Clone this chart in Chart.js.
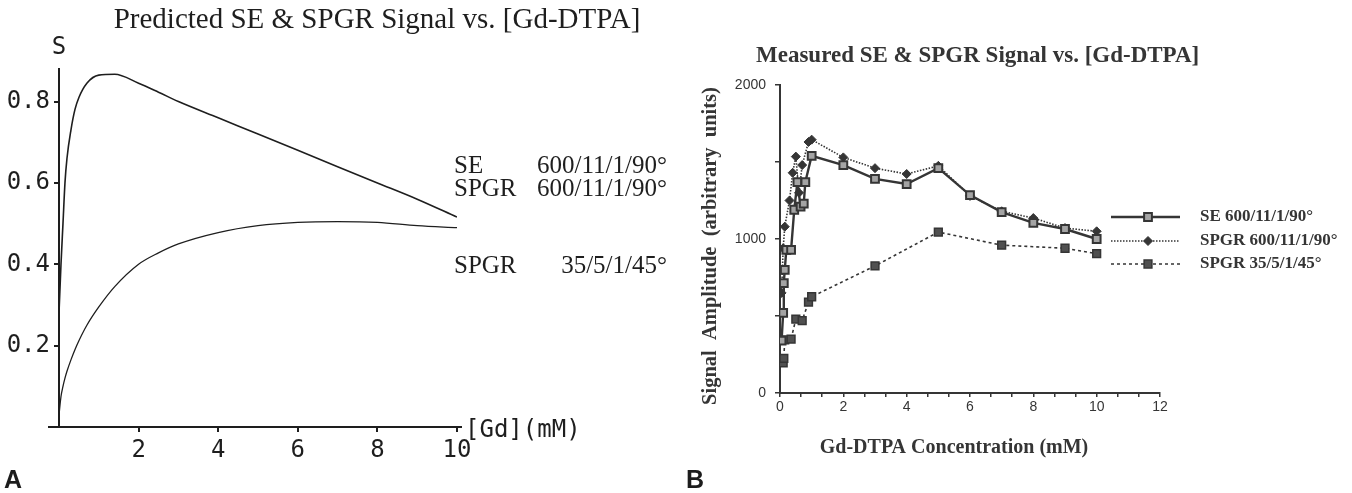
<!DOCTYPE html>
<html>
<head>
<meta charset="utf-8">
<script src="https://cdn.jsdelivr.net/npm/chart.js@4.4.1/dist/chart.umd.min.js"></script>
<style>
  html, body { margin: 0; padding: 0; background: #fff; }
  #wrap { position: relative; width: 1352px; height: 493px; overflow: hidden; background: #fff; }
  #cA { position: absolute; left: 0; top: 0; }
  #cB { position: absolute; left: 680px; top: 0; }
  .tag { position: absolute; top: 465px; font: bold 25px "Liberation Sans", Arial, sans-serif; color: #1c1c1c; }
</style>
</head>
<body>
<div id="wrap">
  <canvas id="cA" width="680" height="493"></canvas>
  <canvas id="cB" width="672" height="493"></canvas>
  <div class="tag" style="left:4px">A</div>
  <div class="tag" style="left:686px">B</div>
</div>
<script>
// ---- panel A: predicted signal ----
const predGd = [0, 0.05, 0.1, 0.15, 0.2, 0.3, 0.4, 0.5, 0.7, 1.0, 1.4, 2, 2.5, 3, 4, 5, 6, 7, 8, 9, 10];
const predSE = [0.28, 0.40, 0.50, 0.60, 0.66, 0.73, 0.78, 0.81, 0.845, 0.865, 0.867, 0.845, 0.823, 0.80, 0.76, 0.72, 0.68, 0.64, 0.60, 0.56, 0.516];
const predSPGR35 = [0.03, 0.075, 0.10, 0.12, 0.137, 0.165, 0.19, 0.212, 0.25, 0.295, 0.345, 0.40, 0.428, 0.45, 0.478, 0.495, 0.503, 0.505, 0.503, 0.495, 0.49];
const ticksAx = [2, 4, 6, 8, 10];
const ticksAy = [0.2, 0.4, 0.6, 0.8];
const legendA = [['SE', '600/11/1/90°'], ['SPGR', '600/11/1/90°'], ['SPGR', '35/5/1/45°']];

// ---- panel B: measured signal (arbitrary units) ----
const seGd   = [0.05, 0.1, 0.12, 0.15, 0.2, 0.35, 0.45, 0.55, 0.65, 0.75, 0.8, 1, 2, 3, 4, 5, 6, 7, 8, 9, 10];
const seSig  = [340, 520, 714, 800, 930, 930, 1190, 1370, 1210, 1230, 1370, 1540, 1480, 1390, 1357, 1460, 1285, 1175, 1105, 1065, 1000];
const sp6Gd  = [0.05, 0.1, 0.15, 0.3, 0.4, 0.5, 0.6, 0.7, 0.9, 1, 2, 3, 4, 5, 6, 7, 8, 9, 10];
const sp6Sig = [650, 940, 1080, 1250, 1430, 1535, 1300, 1480, 1630, 1645, 1530, 1460, 1422, 1475, 1280, 1180, 1136, 1071, 1050];
const sp35Gd  = [0.1, 0.12, 0.15, 0.35, 0.5, 0.7, 0.9, 1, 3, 5, 7, 9, 10];
const sp35Sig = [195, 225, 345, 350, 480, 470, 590, 625, 825, 1045, 960, 940, 905];
const seriesB = ['SE 600/11/1/90°', 'SPGR 600/11/1/90°', 'SPGR 35/5/1/45°'];
const ticksBy = [0, 500, 1000, 1500, 2000];
const labelsBy = [0, 1000, 2000];
const ticksBx = Array.from({ length: 19 }, (_, i) => i * 2 / 3);

const ink = '#1e1e1e';
const gray = '#353535';
const mono = '"DejaVu Sans Mono", "Liberation Mono", monospace';
const serif = '"Liberation Serif", "Times New Roman", serif';
const sans = '"Liberation Sans", Arial, sans-serif';

const pts = (xs, ys) => xs.map((x, i) => ({ x: x, y: ys[i] }));

const textA = {
  id: 'textA',
  afterDraw(chart) {
    const ctx = chart.ctx;
    const area = chart.chartArea;
    ctx.save();
    // axis line runs a bit past both ends
    ctx.strokeStyle = ink;
    ctx.lineWidth = 2;
    ctx.beginPath();
    ctx.moveTo(area.left - 11, area.bottom);
    ctx.lineTo(area.right + 5, area.bottom);
    ctx.stroke();

    ctx.fillStyle = ink;
    ctx.font = '29px ' + serif;
    ctx.textAlign = 'center';
    ctx.textBaseline = 'middle';
    ctx.fillText('Predicted SE & SPGR Signal vs. [Gd-DTPA]', 377, 20);

    ctx.font = '24px ' + mono;
    ctx.fillText('S', area.left, 48);
    ctx.textAlign = 'left';
    ctx.fillText('[Gd](mM)', area.right + 8, area.bottom + 4);

    ctx.font = '25px ' + serif;
    const rowsY = [166, 189, 266];
    legendA.forEach((r, i) => {
      ctx.textAlign = 'left';
      ctx.fillText(r[0], 454, rowsY[i]);
      ctx.textAlign = 'right';
      ctx.fillText(r[1], 667, rowsY[i]);
    });
    ctx.restore();
  }
};

new Chart(document.getElementById('cA'), {
  type: 'line',
  data: {
    datasets: [
      { data: pts(predGd, predSE), borderColor: ink, borderWidth: 1.6, pointRadius: 0, cubicInterpolationMode: 'monotone' },
      { data: pts(predGd, predSPGR35), borderColor: ink, borderWidth: 1.3, pointRadius: 0, cubicInterpolationMode: 'monotone' }
    ]
  },
  options: {
    responsive: false,
    animation: false,
    events: [],
    layout: { padding: { top: 69, right: 223, left: 0, bottom: 0 } },
    plugins: { legend: { display: false }, tooltip: { enabled: false } },
    scales: {
      x: {
        type: 'linear', min: 0, max: 10,
        afterFit(s) { s.height = 66; },
        afterBuildTicks(s) { s.ticks = ticksAx.map(v => ({ value: v })); },
        ticks: { font: { family: mono, size: 24 }, color: ink, padding: 4, maxRotation: 0 },
        grid: { drawOnChartArea: false, tickLength: 5, color: ink, lineWidth: 2 },
        border: { color: ink, width: 2 }
      },
      y: {
        min: 0, max: 0.88,
        afterFit(s) { s.width = 59; },
        afterBuildTicks(s) { s.ticks = ticksAy.map(v => ({ value: v })); },
        ticks: { font: { family: mono, size: 24 }, color: ink, padding: 4, callback: v => v.toFixed(1) },
        grid: { drawOnChartArea: false, tickLength: 5, color: ink, lineWidth: 2 },
        border: { color: ink, width: 2 }
      }
    }
  },
  plugins: [textA]
});

const textB = {
  id: 'textB',
  afterDraw(chart) {
    const ctx = chart.ctx;
    ctx.save();
    ctx.fillStyle = gray;
    ctx.textBaseline = 'middle';
    ctx.font = 'bold 23px ' + serif;
    ctx.textAlign = 'left';
    ctx.fillText('Measured SE & SPGR Signal vs. [Gd-DTPA]', 76, 56);

    ctx.font = 'bold 20px ' + serif;
    ctx.textAlign = 'center';
    ctx.fillText('Gd-DTPA Concentration (mM)', 274, 448);
    ctx.save();
    ctx.translate(31, 246);
    ctx.rotate(-Math.PI / 2);
    ctx.font = 'bold 20.5px ' + serif;
    ctx.fillText('Signal  Amplitude  (arbitrary  units)', 0, 0);
    ctx.restore();

    // legend: line sample, marker, label
    const rowsY = [217, 241, 264];
    chart.data.datasets.forEach((ds, i) => {
      const y = rowsY[i];
      ctx.save();
      ctx.strokeStyle = ds.borderColor;
      ctx.lineWidth = ds.borderWidth;
      ctx.setLineDash(ds.borderDash || []);
      ctx.beginPath();
      ctx.moveTo(431, y);
      ctx.lineTo(500, y);
      ctx.stroke();
      ctx.setLineDash([]);
      ctx.fillStyle = ds.pointBackgroundColor;
      ctx.strokeStyle = ds.pointBorderColor;
      ctx.lineWidth = ds.pointBorderWidth;
      Chart.helpers.drawPoint(ctx, { pointStyle: ds.pointStyle, radius: ds.pointRadius, rotation: 0, borderWidth: ds.pointBorderWidth }, 468, y);
      ctx.restore();
      ctx.font = 'bold 17px ' + serif;
      ctx.textAlign = 'left';
      ctx.fillText(ds.label, 520, y);
    });
    ctx.restore();
  }
};

new Chart(document.getElementById('cB'), {
  type: 'line',
  data: {
    datasets: [
      { label: seriesB[0], data: pts(seGd, seSig), borderColor: gray, borderWidth: 2.4,
        pointStyle: 'rect', pointRadius: 5.5, pointBackgroundColor: '#a4a4a4', pointBorderColor: gray, pointBorderWidth: 2 },
      { label: seriesB[1], data: pts(sp6Gd, sp6Sig), borderColor: gray, borderWidth: 1.6, borderDash: [1.5, 1.5],
        pointStyle: 'rectRot', pointRadius: 4.5, pointBackgroundColor: gray, pointBorderColor: gray, pointBorderWidth: 1 },
      { label: seriesB[2], data: pts(sp35Gd, sp35Sig), borderColor: gray, borderWidth: 1.6, borderDash: [3, 3],
        pointStyle: 'rect', pointRadius: 5.5, pointBackgroundColor: '#505050', pointBorderColor: gray, pointBorderWidth: 1.5 }
    ]
  },
  options: {
    responsive: false,
    animation: false,
    events: [],
    layout: { padding: { top: 85, right: 192, left: 0, bottom: 0 } },
    plugins: { legend: { display: false }, tooltip: { enabled: false } },
    scales: {
      x: {
        type: 'linear', min: 0, max: 12,
        afterFit(s) { s.height = 100; },
        afterBuildTicks(s) { s.ticks = ticksBx.map(v => ({ value: v })); },
        ticks: {
          font: { family: sans, size: 14 }, color: gray, padding: 2, maxRotation: 0, autoSkip: false,
          callback: v => { const r = Math.round(v); return Math.abs(v - r) < 1e-6 && r % 2 === 0 ? String(r) : ''; }
        },
        grid: { drawOnChartArea: false, tickLength: 4, color: gray, lineWidth: 1.5 },
        border: { color: gray, width: 2 }
      },
      y: {
        min: 0, max: 2000,
        afterFit(s) { s.width = 100; },
        afterBuildTicks(s) { s.ticks = ticksBy.map(v => ({ value: v })); },
        ticks: {
          font: { family: sans, size: 14 }, color: gray, padding: 9, autoSkip: false,
          callback: v => labelsBy.includes(v) ? String(v) : ''
        },
        grid: { drawOnChartArea: false, tickLength: 5, color: gray, lineWidth: 1.5 },
        border: { color: gray, width: 2 }
      }
    }
  },
  plugins: [textB]
});
</script>
</body>
</html>
